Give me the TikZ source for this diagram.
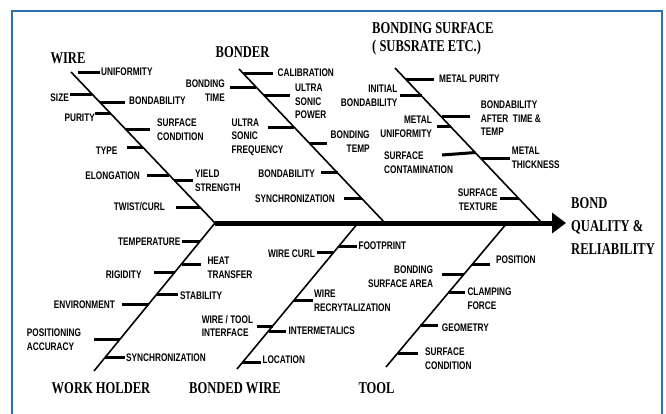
\documentclass[tikz,border=0pt]{standalone}
\usepackage{fontspec}
\usetikzlibrary{arrows.meta}
\setmainfont{Liberation Serif}
\newfontfamily\labfont[FakeStretch=0.75]{Liberation Sans Bold}
\newfontfamily\headfont[FakeStretch=0.76]{Liberation Serif Bold}
\definecolor{frameblue}{HTML}{2F6DB5}
\newcommand\fbtick[3]{\draw[tickline] (#1,#3) -- (#2,#3);}
\tikzset{
  lab/.style={font=\labfont\fontsize{11}{13.7}\selectfont, inner sep=0pt},
  head/.style={font=\headfont\fontsize{16.5}{18}\selectfont, inner sep=0pt},
  bone/.style={line width=1.6pt, black},
  tickline/.style={line width=3pt, black},
  spine/.style={line width=5pt, black, -{Triangle[length=14pt,width=20pt]}},
}
\begin{document}
\begin{tikzpicture}[x=1pt,y=-1pt]
\useasboundingbox (0,0) rectangle (666,413);
% frame
\draw[frameblue, line width=1.6pt] (12,414) -- (12,11) -- (662,11) -- (662,414);

% bones
\coordinate (J) at (215,223);
\coordinate (tip) at (566,223);
\coordinate (wireTop) at (71,72);
\coordinate (bonderTop) at (239,69);
\coordinate (bonderEnd) at (385,223);
\coordinate (bsTop) at (395,68);
\coordinate (bsEnd) at (542,223);
\coordinate (whBot) at (94,371);
\coordinate (bwTop) at (358,223);
\coordinate (bwBot) at (237,369);
\coordinate (toolTop) at (507,223);
\coordinate (toolBot) at (386,367);

\draw[bone] (wireTop) -- (J);
\draw[bone] (bonderTop) -- (bonderEnd);
\draw[bone] (bsTop) -- (bsEnd);
\draw[bone] (J) -- (whBot);
\draw[bone] (bwTop) -- (bwBot);
\draw[bone] (toolTop) -- (toolBot);
\draw[spine] (J) -- (tip);

% headings
\node[head] (hwire) at (68,58.5) {WIRE};
\node[head] (hbonder) at (242.5,52.5) {BONDER};
\node[head, anchor=west, align=left, font=\headfont\fontsize{16.5}{17.6}\selectfont] (hbs) at (372,39) {BONDING SURFACE\\( SUBSRATE ETC.)};
\node[head, anchor=west, align=left, font=\headfont\fontsize{16.5}{23}\selectfont] (effect) at (571,226) {BOND\\QUALITY \&\\RELIABILITY};
\node[head] (hwh) at (101,388) {WORK HOLDER};
\node[head] (hbw) at (235,388) {BONDED WIRE};
\node[head] (htool) at (376.5,388) {TOOL};

% WIRE
\node[lab, anchor=west] (w1) at (101,71.5) {UNIFORMITY};
\fbtick{78}{100}{72}
\node[lab, anchor=east] (w2) at (69,97.5) {SIZE};
\fbtick{70}{92}{94.5}
\node[lab, anchor=west] (w3) at (129,101) {BONDABILITY};
\fbtick{100}{125}{102}
\node[lab, anchor=east] (w4) at (95,117.5) {PURITY};
\fbtick{95}{110.5}{113.5}
\node[lab, anchor=west, align=left] (w5) at (157,130) {SURFACE\\CONDITION};
\fbtick{125.5}{150}{129}
\node[lab, anchor=east] (w6) at (117.5,150.5) {TYPE};
\fbtick{127}{143}{147}
\node[lab, anchor=east] (w7) at (140,175.5) {ELONGATION};
\fbtick{147}{169}{175}
\node[lab, anchor=west, align=left] (w8) at (195,180.5) {YIELD\\STRENGTH};
\fbtick{174}{193}{180.5}
\node[lab, anchor=east] (w9) at (165,207) {TWIST/CURL};
\fbtick{176}{200}{207}

% BONDER
\node[lab, anchor=west] (b1) at (277.5,72.3) {CALIBRATION};
\fbtick{243}{272.5}{73.3}
\node[lab, anchor=east, align=right] (b2) at (225,90.5) {BONDING\\TIME};
\fbtick{229.5}{256}{87.5}
\node[lab, anchor=west, align=left] (b3) at (295,101.3) {ULTRA\\SONIC\\POWER};
\fbtick{264}{290}{95}
\node[lab, anchor=west, align=left] (b4) at (231.5,137) {ULTRA\\SONIC\\FREQUENCY};
\fbtick{267.5}{294}{127.5}
\node[lab, anchor=west, align=right] (b5) at (330.5,141.5) {BONDING\\TEMP};
\fbtick{310}{327}{143.5}
\node[lab, anchor=east] (b6) at (315,173.8) {BONDABILITY};
\fbtick{321}{337.5}{172.5}
\node[lab, anchor=east] (b7) at (335,198.7) {SYNCHRONIZATION};
\fbtick{344}{362}{198.5}

% BONDING SURFACE
\node[lab, anchor=west] (s1) at (439,79) {METAL PURITY};
\fbtick{406}{433.5}{79}
\node[lab, anchor=east, align=right] (s2) at (397.5,96) {INITIAL\\BONDABILITY};
\fbtick{400}{421.7}{95.7}
\node[lab, anchor=east, align=right] (s3) at (432,127) {METAL\\UNIFORMITY};
\fbtick{436.7}{451.3}{126.7}
\node[lab, anchor=west, align=left] (s4) at (480.7,118.3) {BONDABILITY\\AFTER\ \ TIME \&\\TEMP};
\fbtick{442}{470}{116.7}
\node[lab, anchor=west, align=left] (s5) at (384,162.8) {SURFACE\\CONTAMINATION};
\draw[tickline] (442,155) -- (475.5,152.5);
\node[lab, anchor=west, align=left] (s6) at (511.7,157.5) {METAL\\THICKNESS};
\fbtick{481}{510}{158.3}
\node[lab, anchor=east, align=right] (s7) at (497.5,200) {SURFACE\\TEXTURE};
\fbtick{500}{519}{198.3}

% WORK HOLDER
\node[lab, anchor=east] (h1) at (180.5,241.3) {TEMPERATURE};
\fbtick{181.7}{199.7}{241.7}
\node[lab, anchor=west, align=left] (h2) at (207.3,268) {HEAT\\TRANSFER};
\fbtick{182}{200.7}{264}
\node[lab, anchor=east] (h3) at (141.7,274.7) {RIGIDITY};
\fbtick{154.3}{175}{272.3}
\node[lab, anchor=west] (h4) at (180,295.7) {STABILITY};
\fbtick{157}{178.3}{294}
\node[lab, anchor=east] (h5) at (115,304.7) {ENVIRONMENT};
\fbtick{121.7}{148.8}{304.3}
\node[lab, anchor=west, align=left] (h6) at (26.7,339.5) {POSITIONING\\ACCURACY};
\fbtick{94.3}{120.2}{339}
\node[lab, anchor=west] (h7) at (126,358) {SYNCHRONIZATION};
\fbtick{105.4}{125}{357}

% BONDED WIRE
\node[lab, anchor=west] (d1) at (358.3,246) {FOOTPRINT};
\fbtick{339.2}{357.3}{246}
\node[lab, anchor=east] (d2) at (315,253.8) {WIRE CURL};
\fbtick{316.7}{333.4}{252.7}
\node[lab, anchor=west, align=left] (d3) at (314,301) {WIRE\\RECRYTALIZATION};
\fbtick{294.3}{312.7}{300}
\node[lab, anchor=west, align=left] (d4) at (201.7,326) {WIRE / TOOL\\INTERFACE};
\fbtick{257.3}{272.7}{326}
\node[lab, anchor=west] (d5) at (288.3,330.7) {INTERMETALICS};
\fbtick{268.6}{286}{331}
\node[lab, anchor=west] (d6) at (262.3,360) {LOCATION};
\fbtick{242}{261}{362.7}

% TOOL
\node[lab, anchor=west] (t1) at (496,260) {POSITION};
\fbtick{472.3}{490}{264}
\node[lab, anchor=east, align=right] (t2) at (433.3,277) {BONDING\\SURFACE AREA};
\fbtick{441.7}{463.9}{274}
\node[lab, anchor=west, align=left] (t3) at (467.3,299) {CLAMPING\\FORCE};
\fbtick{448}{465}{292.7}
\node[lab, anchor=west] (t4) at (441.7,327.5) {GEOMETRY};
\fbtick{420.4}{438.3}{325.7}
\node[lab, anchor=west, align=left] (t5) at (425,359) {SURFACE\\CONDITION};
\fbtick{397.7}{418.3}{353.3}
\end{tikzpicture}
\end{document}
